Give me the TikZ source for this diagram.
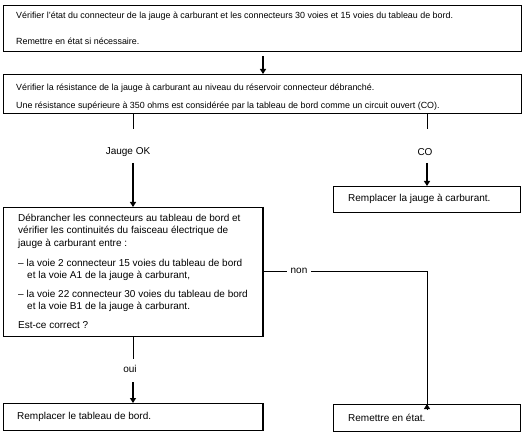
\documentclass[tikz,border=0pt]{standalone}
\usepackage{fontspec}
\setmainfont{Liberation Sans}
\usetikzlibrary{arrows.meta}
\begin{document}
\begin{tikzpicture}[x=1pt,y=-1pt,
  box/.style={draw,line width=0.9pt,rectangle,inner sep=0pt,anchor=north west},
  txt/.style={anchor=west,inner sep=0pt,font=\fontsize{8.9}{10}\selectfont},
  bigtxt/.style={anchor=west,inner sep=0pt,font=\fontsize{10}{12}\selectfont},
  lbl/.style={inner sep=1.5pt,fill=white,font=\fontsize{10}{12}\selectfont},
  plain/.style={line width=0.9pt},
  arr/.style={line width=1.8pt,-{Triangle[width=6pt,length=5pt]}}]
\useasboundingbox (0,0) rectangle (526,435);
% boxes
\node[box,minimum width=518pt,minimum height=46pt] (b1) at (3,5) {};
\node[box,minimum width=518pt,minimum height=39pt] (b2) at (3,74) {};
\node[box,minimum width=259pt,minimum height=129pt] (b3) at (3,207) {};
\node[box,minimum width=187pt,minimum height=26pt] (b4) at (333,186) {};
\node[box,minimum width=259pt,minimum height=27pt] (b5) at (3,403) {};
\node[box,minimum width=187pt,minimum height=27pt] (b6) at (333,404) {};
\draw[line width=2.2pt] (b3.north east) -- (b3.south east);
\draw[line width=2.2pt] (b5.north east) -- (b5.south east);
% texts
\node[txt] (t1a) at (16,16) {Vérifier l'état du connecteur de la jauge à carburant et les connecteurs 30 voies et 15 voies du tableau de bord.};
\node[txt] (t1b) at (16,41) {Remettre en état si nécessaire.};
\node[txt] (t2a) at (16,88) {Vérifier la résistance de la jauge à carburant au niveau du réservoir connecteur débranché.};
\node[txt] (t2b) at (16,106) {Une résistance supérieure à 350 ohms est considérée par la tableau de bord comme un circuit ouvert (CO).};
\node[bigtxt] (t3a) at (18,218) {Débrancher les connecteurs au tableau de bord et};
\node[bigtxt] (t3b) at (18,231) {vérifier les continuités du faisceau électrique de};
\node[bigtxt] (t3c) at (18,244) {jauge à carburant entre :};
\node[bigtxt] (t3d) at (18,263) {– la voie 2 connecteur 15 voies du tableau de bord};
\node[bigtxt] (t3e) at (27,276) {et la voie A1 de la jauge à carburant,};
\node[bigtxt] (t3f) at (18,294) {– la voie 22 connecteur 30 voies du tableau de bord};
\node[bigtxt] (t3g) at (27,307) {et la voie B1 de la jauge à carburant.};
\node[bigtxt] (t3h) at (18,325) {Est-ce correct ?};
\node[bigtxt] (t4) at (348,199) {Remplacer la jauge à carburant.};
\node[bigtxt] (t5) at (17,417) {Remplacer le tableau de bord.};
\node[bigtxt] (t6) at (348,418) {Remettre en état.};
% labels
\node[lbl] (lok) at (128,152) {Jauge OK};
\node[lbl] (lco) at (425,152) {CO};
\node[lbl] (loui) at (130,369) {oui};
% coordinates
\coordinate (c1) at (263,56);
\coordinate (c2) at (133,129);
\coordinate (c3) at (133,163);
\coordinate (c4) at (427,129);
\coordinate (c5) at (427,163);
\coordinate (c6) at (133,359);
\coordinate (c7) at (133,382);
\coordinate (c8) at (427,271);
\coordinate (c9) at (262,271);
% connectors
\draw[arr] (c1) -- (b2.north -| c1);
\draw[plain] (b2.south -| c2) -- (c2);
\draw[arr] (c3) -- (b3.north -| c3);
\draw[plain] (b2.south -| c4) -- (c4);
\draw[arr] (c5) -- (b4.north -| c5);
\draw[plain] (b3.south -| c6) -- (c6);
\draw[arr] (c7) -- (b5.north -| c7);
\draw[plain] (c9) -- (c8) -- ([yshift=-5pt]b6.north -| c8);
\draw[line width=0.9pt,-{Triangle[width=6pt,length=5pt]}] ([yshift=-6pt]b6.north -| c8) -- (b6.north -| c8);
\node[lbl,inner xsep=4pt] (lnon) at (299,271) {non};
\end{tikzpicture}
\end{document}
